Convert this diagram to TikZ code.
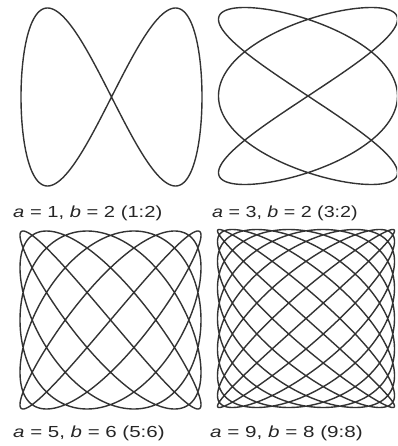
\documentclass[tikz,border=0pt]{standalone}
\usepackage{fontspec}
\usepackage{graphicx}
\setmainfont{Liberation Sans}
\begin{document}
\begin{tikzpicture}[x=1pt,y=-1pt,
  curve/.style={draw=black!80,line width=1.4pt,line join=round},
  lbl/.style={anchor=base west,inner sep=0pt,text=black!85,font=\fontsize{16}{19}\selectfont}]
\useasboundingbox (0,0) rectangle (397,446);
\clip (0,0) rectangle (397,446);
% a=1, b=2
\draw[curve] plot[domain=0:360,samples=300,variable=\t] ({111.5+90.5*cos(1*\t)},{97+89*sin(2*\t)}) -- cycle;
% a=3, b=2
\draw[curve] plot[domain=0:360,samples=400,variable=\t] ({308+89.5*cos(3*\t)},{96+88.5*sin(2*\t)}) -- cycle;
% a=5, b=6
\draw[curve] plot[domain=0:360,samples=800,variable=\t] ({110.5+90.5*cos(5*\t)},{320+89*sin(6*\t)}) -- cycle;
% a=9, b=8
\draw[curve] plot[domain=0:360,samples=1200,variable=\t] ({306+88.5*cos(9*\t)},{318.5+89*sin(8*\t)}) -- cycle;
\node[lbl] (l1) at (13,217) {\scalebox{1.26}[1]{\textit{a} = 1, \textit{b} = 2 (1:2)}};
\node[lbl] (l2) at (212,217) {\scalebox{1.23}[1]{\textit{a} = 3, \textit{b} = 2 (3:2)}};
\node[lbl] (l3) at (13,437) {\scalebox{1.28}[1]{\textit{a} = 5, \textit{b} = 6 (5:6)}};
\node[lbl] (l4) at (210,437) {\scalebox{1.29}[1]{\textit{a} = 9, \textit{b} = 8 (9:8)}};
\end{tikzpicture}
\end{document}
